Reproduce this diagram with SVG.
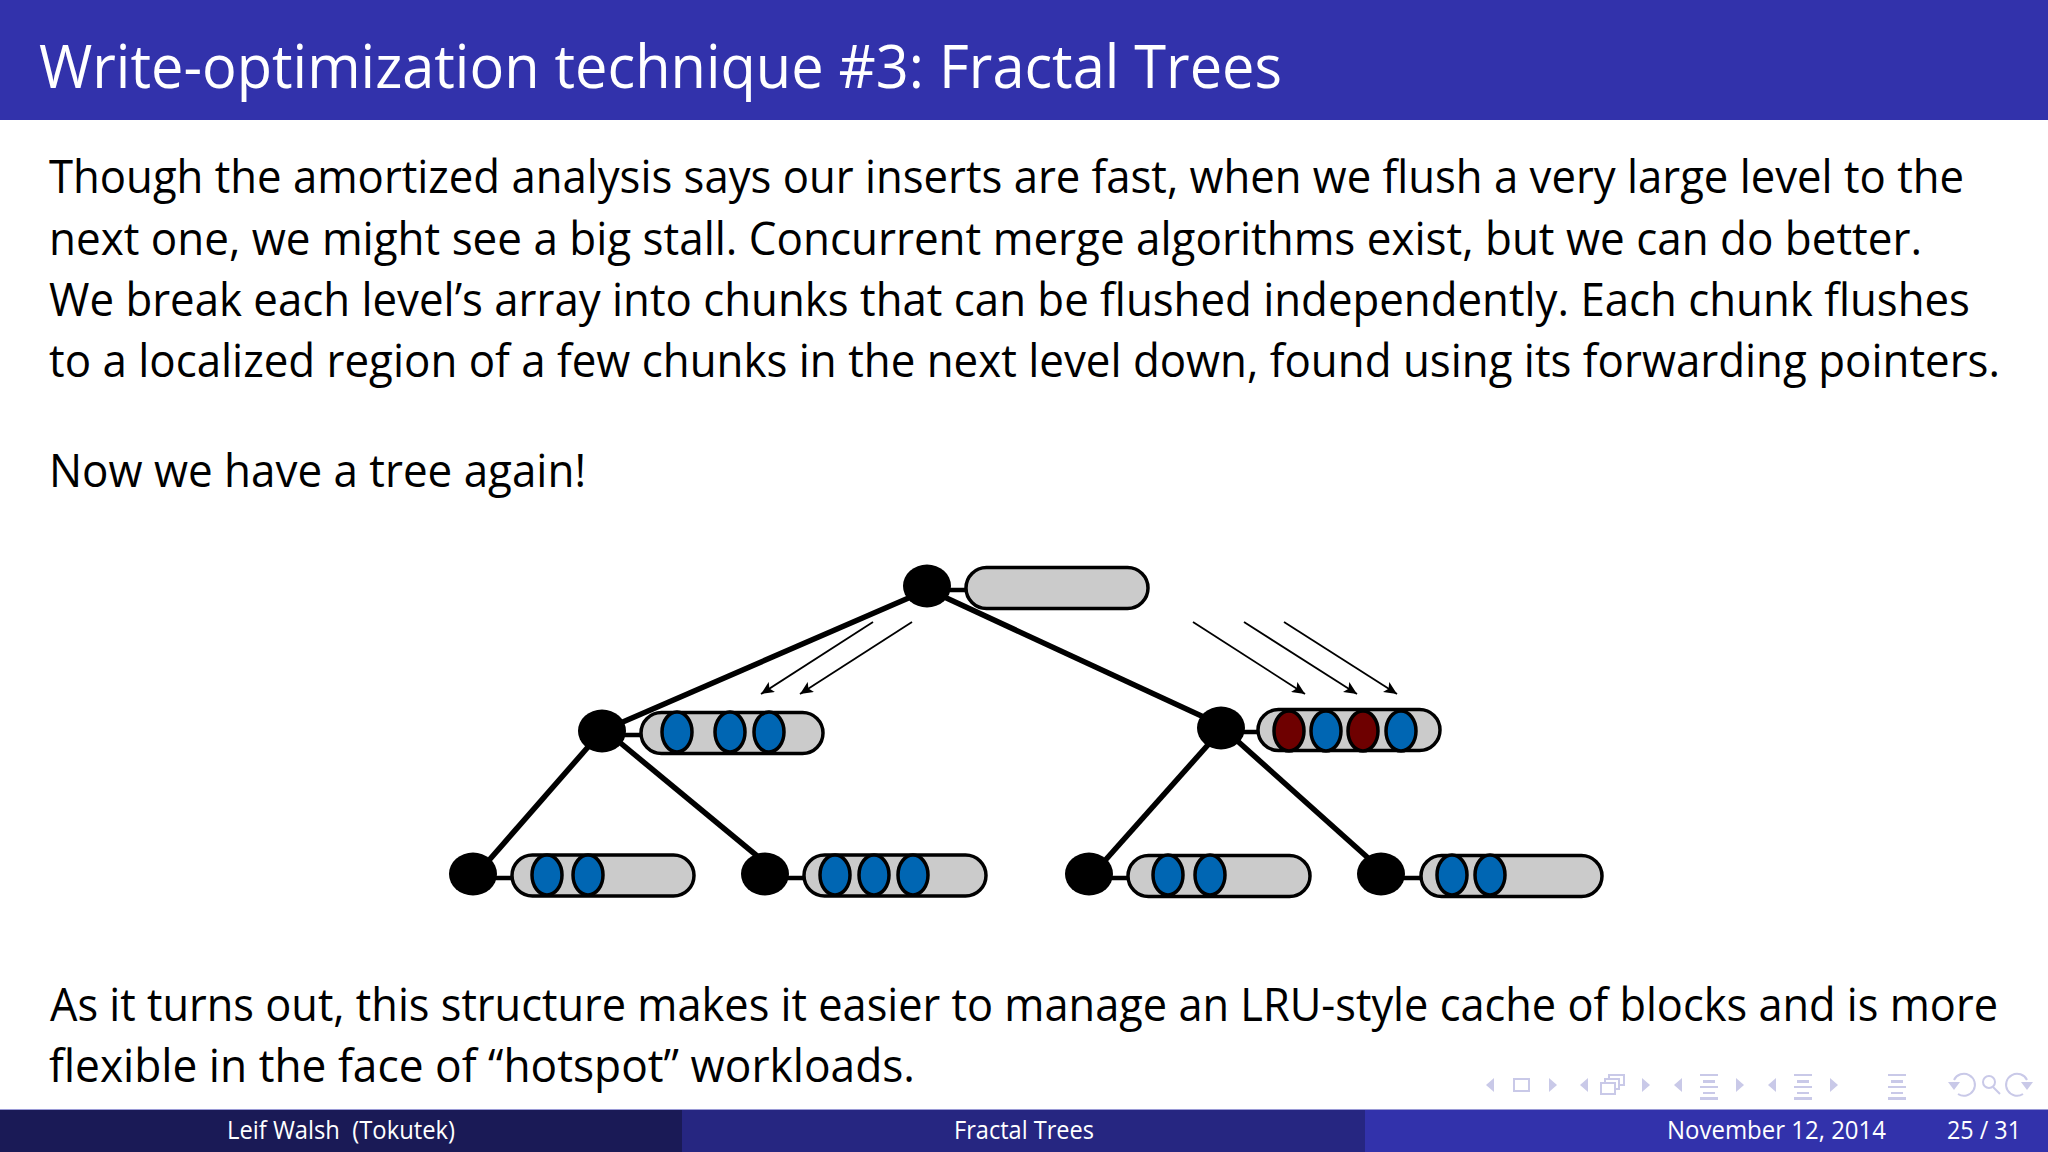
<svg xmlns="http://www.w3.org/2000/svg" width="2048" height="1152" viewBox="0 0 2048 1152">
<style>
text{font-family:"Open Sans","Noto Sans","Liberation Sans",sans-serif;}
.b{font-size:45px;fill:#000;}
.f{font-size:26px;fill:#fff;}
.n{fill:#000;}
.p{fill:#cbcbcb;stroke:#000;stroke-width:3.5;}
.u{fill:#0066b3;stroke:#000;stroke-width:3.5;}
.r{fill:#6e0000;stroke:#000;stroke-width:3.5;}
.e{stroke:#000;stroke-width:5.5;fill:none;}
.s{stroke:#000;stroke-width:4.5;fill:none;}
.a{stroke:#000;stroke-width:1.8;fill:none;marker-end:url(#ah);}
.i{fill:#c9c9e8;stroke:none;}
.il{fill:none;stroke:#c9c9e8;stroke-width:2;}
</style>
<defs>
<marker id="ah" markerUnits="userSpaceOnUse" markerWidth="14" markerHeight="12" refX="13" refY="6" orient="auto"><path d="M0 0L13 6L0 12L3 6Z" fill="#000"/></marker>
<g id="lines"><path class="i" d="M0 0h18v2h-18zM3 6h12v3h-12zM0 12h18v2h-18zM3 18h12v2h-12zM0 23h18v3h-18z"/></g>
</defs>
<rect width="2048" height="1152" fill="#fff"/>
<rect id="header" width="2048" height="120" fill="#3232ab"/>
<text x="39" y="88" font-size="60" fill="#fff" textLength="1243" lengthAdjust="spacingAndGlyphs">Write-optimization technique #3: Fractal Trees</text>
<g id="body">
<text class="b" x="49" y="193" textLength="1915" lengthAdjust="spacingAndGlyphs">Though the amortized analysis says our inserts are fast, when we flush a very large level to the</text>
<text class="b" x="49" y="255" textLength="1873" lengthAdjust="spacingAndGlyphs">next one, we might see a big stall. Concurrent merge algorithms exist, but we can do better.</text>
<text class="b" x="49" y="316" textLength="1921" lengthAdjust="spacingAndGlyphs">We break each level’s array into chunks that can be flushed independently. Each chunk flushes</text>
<text class="b" x="49" y="377" textLength="1951" lengthAdjust="spacingAndGlyphs">to a localized region of a few chunks in the next level down, found using its forwarding pointers.</text>
<text class="b" x="49" y="487" textLength="537" lengthAdjust="spacingAndGlyphs">Now we have a tree again!</text>
<text class="b" x="50" y="1021" textLength="1948" lengthAdjust="spacingAndGlyphs">As it turns out, this structure makes it easier to manage an LRU-style cache of blocks and is more</text>
<text class="b" x="49" y="1082" textLength="866" lengthAdjust="spacingAndGlyphs">flexible in the face of “hotspot” workloads.</text>
</g>
<g id="connectors">
<path class="e" d="M927 590L602 731"/>
<path class="e" d="M927 589L1221 725"/>
<path class="e" d="M602 731L477 874"/>
<path class="e" d="M606 731L779 874"/>
<path class="e" d="M1223 728L1093 874"/>
<path class="e" d="M1223 728L1386 874"/>
<path class="s" d="M945 590H966M620 735H641M491 878H512M783 878H805M1238 732H1258M1107 878H1128M1399 878H1420"/>
<path class="a" d="M873 622L761 694"/>
<path class="a" d="M912 622L800 694"/>
<path class="a" d="M1193 622L1305 694"/>
<path class="a" d="M1244 622L1357 694"/>
<path class="a" d="M1284 622L1397 694"/>
</g>
<g id="root"><ellipse class="n" cx="927" cy="586" rx="24" ry="21.5"/><rect class="p" x="966" y="567.5" width="182" height="41" rx="20.5"/></g>
<g id="left"><ellipse class="n" cx="602" cy="731" rx="24" ry="21.5"/><rect class="p" x="641" y="712.5" width="182" height="41" rx="20.5"/><ellipse class="u" cx="677" cy="732" rx="15" ry="20"/><ellipse class="u" cx="730" cy="732" rx="15" ry="20"/><ellipse class="u" cx="769" cy="732" rx="15" ry="20"/></g>
<g id="right"><ellipse class="n" cx="1221" cy="728" rx="24" ry="21.5"/><rect class="p" x="1258" y="709.5" width="182" height="41" rx="20.5"/><ellipse class="r" cx="1289" cy="731" rx="15" ry="20"/><ellipse class="u" cx="1326" cy="731" rx="15" ry="20"/><ellipse class="r" cx="1363" cy="731" rx="15" ry="20"/><ellipse class="u" cx="1401" cy="731" rx="15" ry="20"/></g>
<g id="leaf1"><ellipse class="n" cx="473" cy="874" rx="24" ry="21.5"/><rect class="p" x="512" y="855" width="182" height="41" rx="20.5"/><ellipse class="u" cx="547" cy="875" rx="15" ry="20"/><ellipse class="u" cx="588" cy="875" rx="15" ry="20"/></g>
<g id="leaf2"><ellipse class="n" cx="765" cy="874" rx="24" ry="21.5"/><rect class="p" x="804" y="855" width="182" height="41" rx="20.5"/><ellipse class="u" cx="835" cy="875" rx="15" ry="20"/><ellipse class="u" cx="874" cy="875" rx="15" ry="20"/><ellipse class="u" cx="913" cy="875" rx="15" ry="20"/></g>
<g id="leaf3"><ellipse class="n" cx="1089" cy="874" rx="24" ry="21.5"/><rect class="p" x="1128" y="855.5" width="182" height="41" rx="20.5"/><ellipse class="u" cx="1168" cy="875" rx="15" ry="20"/><ellipse class="u" cx="1210" cy="875" rx="15" ry="20"/></g>
<g id="leaf4"><ellipse class="n" cx="1381" cy="874" rx="24" ry="21.5"/><rect class="p" x="1421" y="855.5" width="181" height="41" rx="20.5"/><ellipse class="u" cx="1452" cy="875" rx="15" ry="20"/><ellipse class="u" cx="1490" cy="875" rx="15" ry="20"/></g>
<g id="nav">
<path class="i" d="M1494 1078V1092L1486 1085Z"/>
<rect class="il" x="1514" y="1079" width="15" height="12"/>
<path class="i" d="M1549 1078V1092L1557 1085Z"/>
<path class="i" d="M1588 1078V1092L1580 1085Z"/>
<path class="il" d="M1601 1083h14v11h-14zM1605 1083v-4h14v10h-4M1609 1079v-4h15v10h-5"/>
<path class="i" d="M1642 1078V1092L1650 1085Z"/>
<path class="i" d="M1682 1078V1092L1674 1085Z"/>
<use href="#lines" x="1700" y="1074"/>
<path class="i" d="M1736 1078V1092L1744 1085Z"/>
<path class="i" d="M1776 1078V1092L1768 1085Z"/>
<use href="#lines" x="1794" y="1074"/>
<path class="i" d="M1830 1078V1092L1838 1085Z"/>
<use href="#lines" x="1888" y="1074"/>
<path class="il" d="M1954 1080A11 11 0 1 1 1958 1094"/><path class="i" d="M1948 1082L1960 1082L1954 1090Z"/>
<circle class="il" cx="1989" cy="1082" r="6"/><path class="il" stroke-width="3" d="M1993 1087L2000 1094"/>
<path class="il" d="M2027 1080A11 11 0 1 0 2023 1094"/><path class="i" d="M2033 1082L2021 1082L2027 1090Z"/>
</g>
<g id="footer">
<rect y="1109" width="682" height="43" fill="#1a1a56"/>
<rect x="682" y="1109" width="683" height="43" fill="#262681"/>
<rect x="1365" y="1109" width="683" height="43" fill="#3232ab"/>
<rect y="1109" width="2048" height="1" fill="#9a9ad6"/>
<text class="f" x="227" y="1139" textLength="228" lengthAdjust="spacingAndGlyphs" xml:space="preserve">Leif Walsh  (Tokutek)</text>
<text class="f" x="954" y="1139" textLength="140" lengthAdjust="spacingAndGlyphs">Fractal Trees</text>
<text class="f" x="1667" y="1139" textLength="219" lengthAdjust="spacingAndGlyphs">November 12, 2014</text>
<text class="f" x="1947" y="1139" textLength="74" lengthAdjust="spacingAndGlyphs">25 / 31</text>
</g>
</svg>
